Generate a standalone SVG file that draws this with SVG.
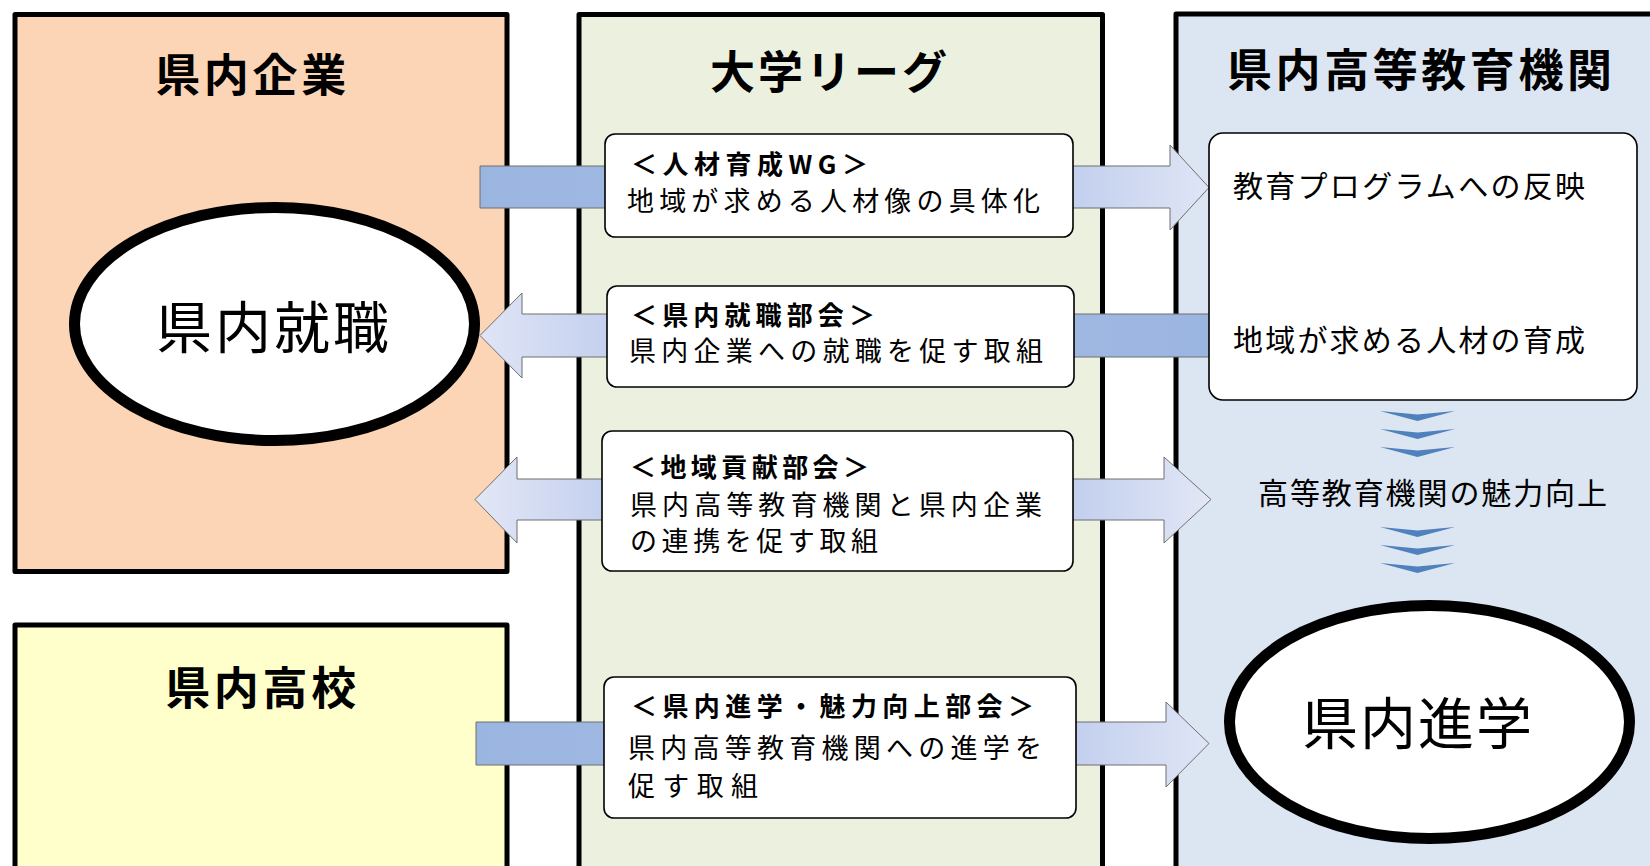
<svg xmlns="http://www.w3.org/2000/svg" width="1650" height="866" viewBox="0 0 1650 866">
  <defs>
    <linearGradient id="gR" gradientUnits="userSpaceOnUse" x1="480" y1="0" x2="1209" y2="0">
      <stop offset="0" stop-color="#9BB5E1"/>
      <stop offset="0.2" stop-color="#9FB8E2"/>
      <stop offset="0.82" stop-color="#C3D0EE"/>
      <stop offset="1" stop-color="#E0E5F6"/>
    </linearGradient>
    <linearGradient id="gL" gradientUnits="userSpaceOnUse" x1="480" y1="0" x2="1210" y2="0">
      <stop offset="0" stop-color="#E0E5F6"/>
      <stop offset="0.18" stop-color="#C3D0EE"/>
      <stop offset="0.8" stop-color="#9FB8E2"/>
      <stop offset="1" stop-color="#9BB5E1"/>
    </linearGradient>
    <linearGradient id="gD" gradientUnits="userSpaceOnUse" x1="475" y1="0" x2="1211" y2="0">
      <stop offset="0" stop-color="#E3E7F6"/>
      <stop offset="0.18" stop-color="#C3D0EE"/>
      <stop offset="0.5" stop-color="#A9BEE6"/>
      <stop offset="0.82" stop-color="#C3D0EE"/>
      <stop offset="1" stop-color="#E3E7F6"/>
    </linearGradient>
    <linearGradient id="gR4" gradientUnits="userSpaceOnUse" x1="476" y1="0" x2="1209" y2="0">
      <stop offset="0" stop-color="#9BB5E1"/>
      <stop offset="0.2" stop-color="#9FB8E2"/>
      <stop offset="0.82" stop-color="#C3D0EE"/>
      <stop offset="1" stop-color="#E0E5F6"/>
    </linearGradient>
  </defs>
  <style>
    .panel { stroke: #000; stroke-width: 5; stroke-linejoin: round; }
    .title { font-family: "Noto Sans CJK JP", "Noto Sans", sans-serif; font-weight: bold; font-size: 45px; fill: #000; }
    .box { fill: #fff; stroke: #000; stroke-width: 1.6; }
    .hd { font-family: "Noto Sans CJK JP", "Noto Sans", sans-serif; font-weight: bold; font-size: 26px; fill: #000; }
    .tx { font-family: "Noto Sans CJK JP", "Noto Sans", sans-serif; font-size: 27px; fill: #000; }
    .tx5 { font-family: "Noto Sans CJK JP", "Noto Sans", sans-serif; font-size: 30px; fill: #000; }
    .ell { fill: #fff; stroke: #000; stroke-width: 11; }
    .big { font-family: "Noto Sans CJK JP", "Noto Sans", sans-serif; font-size: 56px; fill: #000; }
    .arr { stroke: #6F6F6F; stroke-width: 1; }
    .chev { fill: #4F81BD; }
  </style>

  <rect width="1650" height="866" fill="#fff"/>

  <g id="panel-kigyo">
    <rect class="panel" x="15" y="14.5" width="492" height="557" fill="#FBD5B5"/>
    <text class="title" x="250.7" y="72" text-anchor="middle" dominant-baseline="central" textLength="191" lengthAdjust="spacing">県内企業</text>
  </g>

  <g id="panel-koukou">
    <rect class="panel" x="15" y="625" width="492" height="320" fill="#FFFFCC"/>
    <text class="title" x="260.7" y="685" text-anchor="middle" dominant-baseline="central" textLength="191" lengthAdjust="spacing">県内高校</text>
  </g>

  <g id="panel-league">
    <rect class="panel" x="579" y="14.5" width="523.5" height="920" fill="#EBF1DE"/>
    <text class="title" x="828.6" y="69" text-anchor="middle" dominant-baseline="central" textLength="237" lengthAdjust="spacing">大学リーグ</text>
  </g>

  <g id="panel-kikan">
    <rect class="panel" x="1176" y="14" width="520" height="920" fill="#DCE6F2"/>
    <text class="title" x="1419.5" y="67" text-anchor="middle" dominant-baseline="central" textLength="385" lengthAdjust="spacing">県内高等教育機関</text>
  </g>

  <g id="connectors">
    <polygon class="arr" fill="url(#gR)" points="480,166 1170,166 1170,145 1209,187.5 1170,230 1170,208 480,208"/>
    <polygon class="arr" fill="url(#gL)" points="480,335.5 522,293 522,314 1210,314 1210,357 522,357 522,378"/>
    <polygon class="arr" fill="url(#gD)" points="475,499.5 517,457 517,479 1164,479 1164,457 1211,499.5 1164,543 1164,520 517,520 517,543"/>
    <polygon class="arr" fill="url(#gR4)" points="476,722 1166,722 1166,702 1209,743.5 1166,787 1166,765 476,765"/>
    <g id="chevrons">
      <polygon class="chev" points="1380,411 1417.5,414.5 1455,411 1417.5,421"/>
      <polygon class="chev" points="1380,429 1417.5,432.5 1455,429 1417.5,439"/>
      <polygon class="chev" points="1380,447 1417.5,450.5 1455,447 1417.5,457"/>
      <polygon class="chev" points="1380,527 1417.5,530.5 1455,527 1417.5,537"/>
      <polygon class="chev" points="1380,545 1417.5,548.5 1455,545 1417.5,555"/>
      <polygon class="chev" points="1380,563 1417.5,566.5 1455,563 1417.5,573"/>
    </g>
  </g>

  <g id="node-shushoku">
    <ellipse class="ell" cx="274.5" cy="324" rx="200" ry="116.5"/>
    <text class="big" x="272.5" y="323" text-anchor="middle" dominant-baseline="central" textLength="233" lengthAdjust="spacing">県内就職</text>
  </g>

  <g id="node-shingaku">
    <ellipse class="ell" cx="1429.5" cy="722" rx="200" ry="116.5"/>
    <text class="big" x="1417" y="719" text-anchor="middle" dominant-baseline="central" textLength="230" lengthAdjust="spacing">県内進学</text>
  </g>

  <g id="node-jinzai-wg">
    <rect class="box" x="605" y="134" width="468" height="103" rx="10"/>
    <text class="hd" x="631" y="162" dominant-baseline="central" textLength="237" lengthAdjust="spacing">＜人材育成WG＞</text>
    <text class="tx" x="627" y="199" dominant-baseline="central" textLength="413" lengthAdjust="spacing">地域が求める人材像の具体化</text>
  </g>

  <g id="node-shushoku-bukai">
    <rect class="box" x="607" y="286" width="467" height="101" rx="10"/>
    <text class="hd" x="631" y="313" dominant-baseline="central" textLength="244" lengthAdjust="spacing">＜県内就職部会＞</text>
    <text class="tx" x="629" y="349" dominant-baseline="central" textLength="414" lengthAdjust="spacing">県内企業への就職を促す取組</text>
  </g>

  <g id="node-chiiki-bukai">
    <rect class="box" x="602" y="431" width="471" height="140" rx="10"/>
    <text class="hd" x="630" y="465" dominant-baseline="central" textLength="239" lengthAdjust="spacing">＜地域貢献部会＞</text>
    <text class="tx" x="630" y="503" dominant-baseline="central" textLength="412" lengthAdjust="spacing">県内高等教育機関と県内企業</text>
    <text class="tx" x="630" y="539" dominant-baseline="central" textLength="248" lengthAdjust="spacing">の連携を促す取組</text>
  </g>

  <g id="node-shingaku-bukai">
    <rect class="box" x="604" y="677" width="472" height="141" rx="10"/>
    <text class="hd" x="631" y="704" dominant-baseline="central" textLength="403" lengthAdjust="spacing">＜県内進学・魅力向上部会＞</text>
    <text class="tx" x="628" y="746" dominant-baseline="central" textLength="414" lengthAdjust="spacing">県内高等教育機関への進学を</text>
    <text class="tx" x="628" y="784" dominant-baseline="central" textLength="130" lengthAdjust="spacing">促す取組</text>
  </g>

  <g id="node-kikan-box">
    <rect class="box" x="1209" y="133" width="428" height="267" rx="14" stroke-width="2"/>
    <text class="tx5" x="1233" y="184" dominant-baseline="central" textLength="352" lengthAdjust="spacing">教育プログラムへの反映</text>
    <text class="tx5" x="1233" y="338" dominant-baseline="central" textLength="352" lengthAdjust="spacing">地域が求める人材の育成</text>
  </g>

  <g id="node-miryoku">
    <text class="tx5" x="1258" y="491" dominant-baseline="central" textLength="349" lengthAdjust="spacing">高等教育機関の魅力向上</text>
  </g>
</svg>
